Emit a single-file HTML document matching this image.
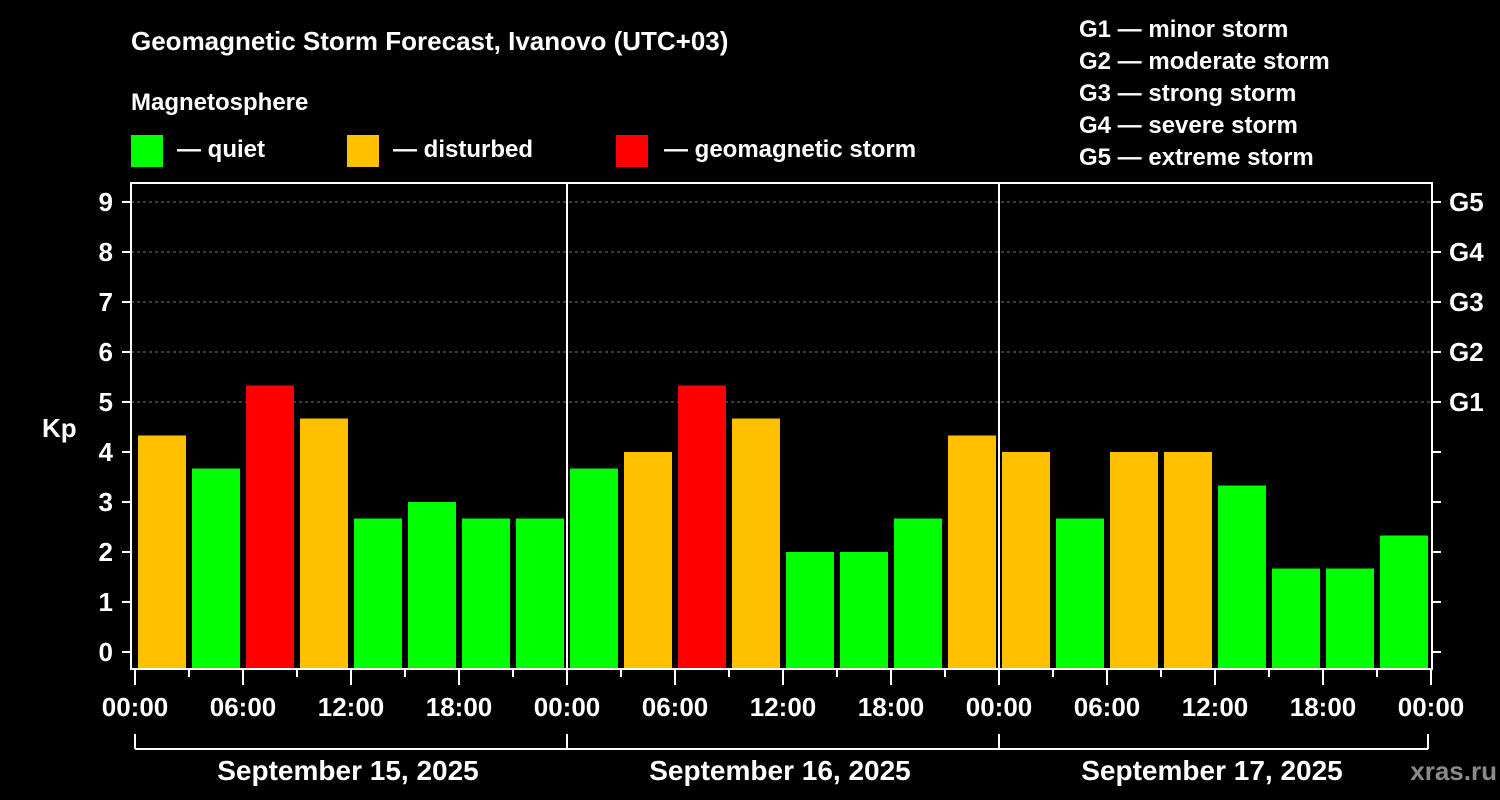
<!DOCTYPE html>
<html><head><meta charset="utf-8"><style>
body{margin:0;background:#000;width:1500px;height:800px;overflow:hidden}
svg{display:block;font-family:"Liberation Sans",Arial,sans-serif;font-weight:bold;fill:#fff}
</style></head><body>
<svg id="c" width="1500" height="800">
<text x="131" y="50" font-size="26">Geomagnetic Storm Forecast, Ivanovo (UTC+03)</text>
<text x="131" y="110" font-size="24">Magnetosphere</text>
<g><rect x="131" y="135" width="32" height="32" fill="#00ff00"/><text x="177" y="157" font-size="24">— quiet</text></g>
<g><rect x="347" y="135" width="32" height="32" fill="#ffc000"/><text x="393" y="157" font-size="24">— disturbed</text></g>
<g><rect x="616" y="135" width="32" height="32" fill="#ff0000"/><text x="664" y="157" font-size="24">— geomagnetic storm</text></g>
<g font-size="24">
<text x="1079" y="37">G1 — minor storm</text><text x="1079" y="69">G2 — moderate storm</text><text x="1079" y="101">G3 — strong storm</text><text x="1079" y="133">G4 — severe storm</text><text x="1079" y="165">G5 — extreme storm</text></g>
<text x="42" y="437" font-size="26">Kp</text>
<g id="grid"></g><g id="bars"></g>
<rect x="131" y="183" width="1301" height="486" fill="none" stroke="#fff" stroke-width="2"/>
<g id="axes"></g>
<text x="1497" y="780" font-size="26" fill="#888" style="fill:#8a8a8a" text-anchor="end">xras.ru</text>
</svg>
<script>
const days=["September 15, 2025","September 16, 2025","September 17, 2025"];
const kp=[4.33,3.67,5.33,4.67,2.67,3,2.67,2.67, 3.67,4,5.33,4.67,2,2,2.67,4.33, 4,2.67,4,4,3.33,1.67,1.67,2.33];
const yTicks=[0,1,2,3,4,5,6,7,8,9];
const gLabels=["G1","G2","G3","G4","G5"];
const hourLabels=["00:00","06:00","12:00","18:00"];
const NS="http://www.w3.org/2000/svg";
const x0=135,dayW=432,slot=54;
const y=v=>652-50*v;
function mk(t,a,p){const e=document.createElementNS(NS,t);for(const k in a)e.setAttribute(k,a[k]);p.appendChild(e);return e;}
const grid=document.getElementById('grid'),bars=document.getElementById('bars'),ax=document.getElementById('axes');
yTicks.forEach(v=>{
 if(v>=5){const l=mk('line',{x1:131,x2:1432,y1:y(v),y2:y(v),stroke:'#777','stroke-dasharray':'3,3'},grid);
 
 }
 const t=mk('line',{x1:122,x2:131,y1:y(v),y2:y(v),stroke:'#fff','stroke-width':2},ax);
 
 
 const r=mk('line',{x1:1432,x2:1441,y1:y(v),y2:y(v),stroke:'#fff','stroke-width':2},ax);
 
 
 const tx=mk('text',{x:113,y:y(v)+9,'font-size':26,'text-anchor':'end'},ax);tx.textContent=v;
 
 
});
gLabels.forEach((g,i)=>{const tx=mk('text',{x:1449,y:y(5+i)+9,'font-size':26},ax);tx.textContent=g;
 
 });
kp.forEach((v,i)=>{const c=v>=5?'#ff0000':(v>=4?'#ffc000':'#00ff00');
 const b=mk('rect',{x:x0+i*slot+3,y:y(v),width:48,height:669-y(v),fill:c},bars);
 
 });
for(let d=1;d<days.length;d++){const l=mk('line',{x1:x0+d*dayW,x2:x0+d*dayW,y1:183,y2:669,stroke:'#fff','stroke-width':2},ax);
 
 }
for(let i=0;i<=kp.length;i++){const xx=x0+i*slot,maj=i%2==0;
 const t=mk('line',{x1:xx,x2:xx,y1:669,y2:maj?685:677,stroke:'#fff','stroke-width':2},ax);
 
 
 if(maj){const tx=mk('text',{x:xx,y:716,'font-size':26,'text-anchor':'middle'},ax);tx.textContent=hourLabels[(i/2)%4];
 
 }}
mk('line',{x1:x0,x2:x0+days.length*dayW-3,y1:749,y2:749,stroke:'#fff','stroke-width':2},ax);
days.forEach((d,i)=>{for(const xx of [x0+i*dayW,x0+(i+1)*dayW-(i==days.length-1?3:0)])mk('line',{x1:xx,x2:xx,y1:734,y2:749,stroke:'#fff','stroke-width':2},ax);
 const tx=mk('text',{x:x0+i*dayW+dayW/2-3,y:780,'font-size':28,'text-anchor':'middle'},ax);tx.textContent=d;
 
 });
</script>
</body></html>
